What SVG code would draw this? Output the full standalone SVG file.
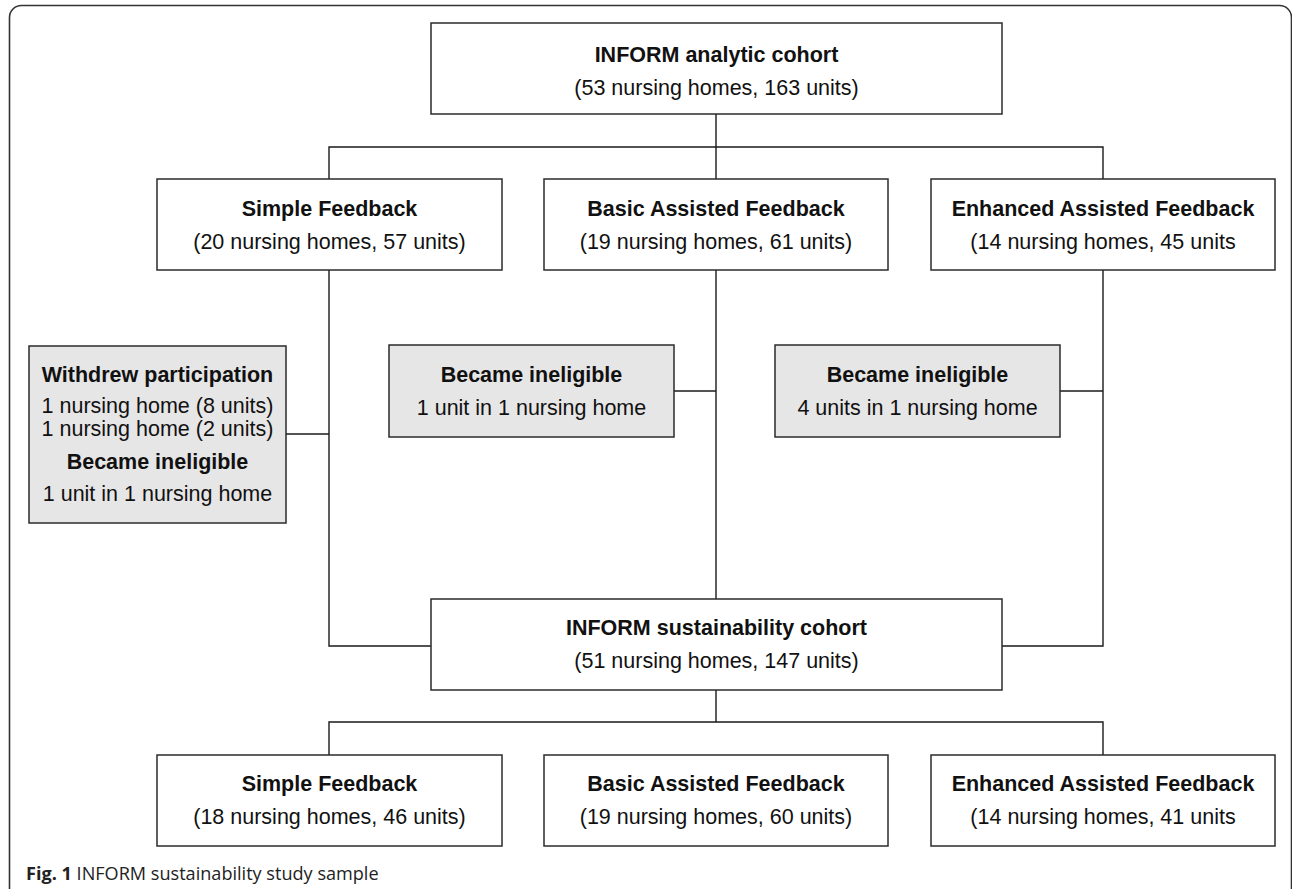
<svg xmlns="http://www.w3.org/2000/svg" width="1292" height="889" viewBox="0 0 1292 889">
<style>
.box{fill:#ffffff;stroke:#2b2b2b;stroke-width:1.5}
.gbox{fill:#e6e6e6;stroke:#2b2b2b;stroke-width:1.5}
.t{font-family:"Liberation Sans",Arial,sans-serif;font-size:21.5px;fill:#111;text-anchor:middle}
.b{font-weight:bold}
.conn{fill:none;stroke:#1a1a1a;stroke-width:1.4}
.cap{font-family:"Open Sans","Liberation Sans",sans-serif;font-size:18.1px;fill:#222}
</style>
<rect x="0" y="0" width="1292" height="889" fill="#ffffff"/>
<rect x="9.5" y="5.5" width="1282" height="920" rx="12" ry="12" fill="none" stroke="#333" stroke-width="1.6"/>

<g id="connectors">
  <path class="conn" d="M716 114 V147 M329 179 V147 H1103 V179 M716 147 V179"/>
  <path class="conn" d="M329 270 V646 H431"/>
  <path class="conn" d="M716 270 V599"/>
  <path class="conn" d="M1103 270 V646 H1002"/>
  <path class="conn" d="M286 434 H329"/>
  <path class="conn" d="M674 391 H716"/>
  <path class="conn" d="M1060 391 H1103"/>
  <path class="conn" d="M716 690 V722 M329 755 V722 H1103 V755"/>
</g>

<g id="analytic">
  <rect class="box" x="431" y="23" width="571" height="91"/>
  <text class="t b" x="716.5" y="62">INFORM analytic cohort</text>
  <text class="t" x="716.5" y="95">(53 nursing homes, 163 units)</text>
</g>

<g id="simple1">
  <rect class="box" x="157" y="179" width="345" height="91"/>
  <text class="t b" x="329.5" y="216">Simple Feedback</text>
  <text class="t" x="329.5" y="249">(20 nursing homes, 57 units)</text>
</g>
<g id="basic1">
  <rect class="box" x="544" y="179" width="344" height="91"/>
  <text class="t b" x="716" y="216">Basic Assisted Feedback</text>
  <text class="t" x="716" y="249">(19 nursing homes, 61 units)</text>
</g>
<g id="enhanced1">
  <rect class="box" x="931" y="179" width="344" height="91"/>
  <text class="t b" x="1103" y="216">Enhanced Assisted Feedback</text>
  <text class="t" x="1103" y="249">(14 nursing homes, 45 units</text>
</g>

<g id="withdrew">
  <rect class="gbox" x="29" y="346" width="257" height="177"/>
  <text class="t b" x="157.5" y="382">Withdrew participation</text>
  <text class="t" x="157.5" y="413">1 nursing home (8 units)</text>
  <text class="t" x="157.5" y="436">1 nursing home (2 units)</text>
  <text class="t b" x="157.5" y="469">Became ineligible</text>
  <text class="t" x="157.5" y="501">1 unit in 1 nursing home</text>
</g>
<g id="ineligible-basic">
  <rect class="gbox" x="389" y="345" width="285" height="92"/>
  <text class="t b" x="531.5" y="382">Became ineligible</text>
  <text class="t" x="531.5" y="415">1 unit in 1 nursing home</text>
</g>
<g id="ineligible-enhanced">
  <rect class="gbox" x="775" y="345" width="285" height="92"/>
  <text class="t b" x="917.5" y="382">Became ineligible</text>
  <text class="t" x="917.5" y="415">4 units in 1 nursing home</text>
</g>

<g id="sustainability">
  <rect class="box" x="431" y="599" width="571" height="91"/>
  <text class="t b" x="716.5" y="635">INFORM sustainability cohort</text>
  <text class="t" x="716.5" y="668">(51 nursing homes, 147 units)</text>
</g>

<g id="simple2">
  <rect class="box" x="157" y="755" width="345" height="91"/>
  <text class="t b" x="329.5" y="791">Simple Feedback</text>
  <text class="t" x="329.5" y="824">(18 nursing homes, 46 units)</text>
</g>
<g id="basic2">
  <rect class="box" x="544" y="755" width="344" height="91"/>
  <text class="t b" x="716" y="791">Basic Assisted Feedback</text>
  <text class="t" x="716" y="824">(19 nursing homes, 60 units)</text>
</g>
<g id="enhanced2">
  <rect class="box" x="931" y="755" width="344" height="91"/>
  <text class="t b" x="1103" y="791">Enhanced Assisted Feedback</text>
  <text class="t" x="1103" y="824">(14 nursing homes, 41 units</text>
</g>

<text class="cap" x="26" y="880"><tspan font-weight="bold">Fig. 1</tspan> INFORM sustainability study sample</text>
</svg>
